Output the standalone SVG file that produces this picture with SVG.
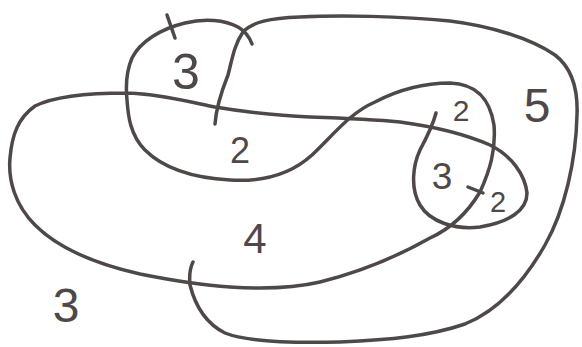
<svg xmlns="http://www.w3.org/2000/svg" width="582" height="347" viewBox="0 0 582 347">
<style>
.s{fill:none;stroke:#4f4848;stroke-width:3.5;stroke-linecap:round;stroke-linejoin:round}
.t{font-family:"Liberation Sans",Arial,sans-serif;fill:#4f4848;text-anchor:middle}
</style>
<rect width="582" height="347" fill="#ffffff"/>
<g id="connectors">
<path class="s" d="M252,44 C249,36 245,31 238,27 C225,20 205,18 185,23 C160,29 140,42 132,58 C126,72 126,90 127,100 C128,115 130,135 145,150 C165,170 195,178 230,180 C262,182 290,175 312,155 C335,133 350,113 375,102 C398,90 425,83 450,83 C478,84 490,100 494,125 C496,150 490,170 480,192 C468,212 452,228 430,238 C400,255 360,272 320,282 C290,289 260,289 230,287 C200,285 170,280 140,274 C100,265 60,250 35,225 C15,205 8,180 10,158 C12,135 18,118 35,106 C55,96 90,93 127,93 C160,94 190,102 215,107 C245,112 280,116 310,117 C340,118 370,119 400,122 C430,126 460,132 490,145 C512,156 525,175 527,193 C527,210 510,222 480,227 C455,230 430,222 420,205 C410,188 413,165 420,150 C428,135 433,125 436,113"/>
<path class="s" d="M215,124 C216,110 222,90 228,75 C232,60 234,45 243,32 C252,22 270,18 300,17 C340,15 400,16 450,21 C490,26 530,38 555,55 C572,68 578,90 577,115 C576,160 565,210 545,245 C525,280 500,310 465,324 C430,336 390,340 340,342 C300,343 250,343 225,333 C205,323 195,305 190,285 C189,275 190,268 193,262"/>
<path class="s" d="M167,15 L175,38"/>
<path class="s" d="M468,187 L483,193"/>
</g>
<g id="labels">
<text class="t" x="186" y="89" font-size="50">3</text>
<text class="t" x="240" y="163" font-size="36">2</text>
<text class="t" x="461" y="121" font-size="30">2</text>
<text class="t" x="537" y="122" font-size="48">5</text>
<text class="t" x="442" y="189" font-size="37">3</text>
<text class="t" x="498" y="212" font-size="29">2</text>
<text class="t" x="255" y="253" font-size="42">4</text>
<text class="t" x="66" y="322" font-size="48">3</text>
</g>
</svg>
